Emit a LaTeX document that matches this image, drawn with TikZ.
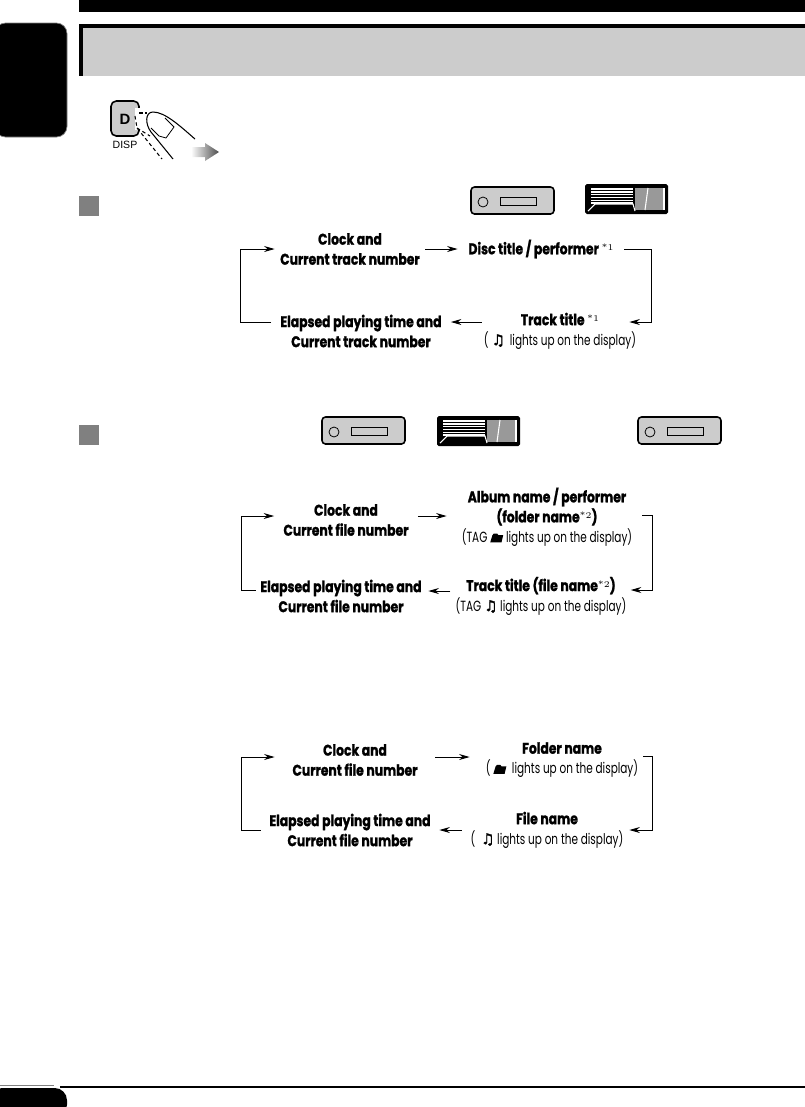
\documentclass[tikz,border=0pt]{standalone}
\usepackage{fontspec}
\usepackage{tikz}
\usetikzlibrary{
  arrows.meta,
  positioning,
  calc
}
\newfontfamily\titlefamily[FakeStretch=0.8,BoldFeatures={FakeBold=1.3}]{Poppins}
\newfontfamily\subfamily[FakeStretch=0.71]{Poppins}
\newfontfamily\symfamily[FakeBold=2]{DejaVu Sans}
\newfontfamily\keyfamily{Liberation Sans}
\newcommand{\flowtitle}{\titlefamily\bfseries\fontsize{8.8}{11.4}\selectfont}
\newcommand{\flowsub}{\subfamily\mdseries\fontsize{8.4}{11.4}\selectfont}
\newcommand{\noteref}[1]{\raisebox{2.2pt}{\rmfamily\mdseries\fontsize{5}{5}\selectfont *#1}}
\newcommand{\noteicon}{{\symfamily\fontsize{8.5}{8.5}\selectfont ♫}}
\newcommand{\foldericon}{\tikz[x=1pt,y=1pt] \fill (0,0) -- (1.2,4) -- (2,5) -- (4,5) -- (4.6,4.2) -- (7.4,4.2) -- (6.4,0) -- cycle;}
\definecolor{bandgray}{HTML}{CCCCCC}
\definecolor{markgray}{HTML}{808080}
\definecolor{panelgray}{HTML}{999999}
\tikzset{
  device/.pic={
    \draw[line width=0.9pt, fill=bandgray, rounded corners=2pt] (0,0) rectangle (83,27);
    \draw[line width=0.45pt] (12,15) circle (5);
    \draw[line width=0.45pt] (29,10) rectangle (65,18);
  },
  panel/.pic={
    \fill[black, rounded corners=1pt] (0,0) rectangle (83,30);
    \fill[panelgray] (50,4) rectangle (79,26);
    \draw[white, line width=0.6pt] (63,4) -- (60,26);
    \draw[white, line width=0.6pt] (79,4) -- (79,26);
    \foreach \yy in {5,7.8,10.6,13.4,16.2,19} {
      \draw[white, line width=0.8pt] (6,\yy) -- (48,\yy);
    }
    \draw[white, line width=0.6pt] (3,27) -- (10,20) -- (48,20) -- (50,27);
  },
}
\begin{document}
\begin{tikzpicture}[
    x=0.02cm, y=-0.02cm,
    flow/.style={align=center, inner sep=0pt, font=\flowtitle, minimum width=#1*0.02cm},
    arr/.style={-{Stealth[length=6pt, width=3.4pt]}, line width=0.55pt},
    secmark/.style={fill=markgray},
  ]
    \useasboundingbox (0,0) rectangle (805,1107);

    %% ── Page furniture ───────────────────────────────────────
    \fill[black] (79,0) rectangle (805,12);
    \fill[black] (79,24) rectangle (805,76);
    \fill[bandgray] (83,28) rectangle (805,76);
    \draw[gray, line width=0.4pt, fill=black, rounded corners=6pt] (-5,23) rectangle (67,137);
    \draw[black, line width=1.1pt] (60,1087) -- (805,1087);
    \fill[black, rounded corners=7pt] (-10,1088) rectangle (67,1117);
    \draw[gray, line width=0.4pt] (0,1085) -- (54,1085);

    %% ── Button and finger ────────────────────────────────────
    \draw[line width=0.9pt, fill=bandgray, rounded corners=3pt] (111,101) rectangle (139,136);
    \node[inner sep=0pt] (dkey) at (125,119) {\keyfamily\bfseries\fontsize{8.5}{8.5}\selectfont D};
    \node[inner sep=0pt] (dname) at (125,145) {\keyfamily\fontsize{6}{6}\selectfont DISP};
    \fill[white] (135,108) rectangle (141,130);
    \draw[dashed, line width=0.6pt, dash pattern=on 2pt off 1.6pt] (139,113) -- (147,113);
    \draw[dashed, line width=0.6pt, dash pattern=on 2pt off 1.6pt] (135,116) -- (137,128) -- (162,159);
    \draw[dashed, line width=0.6pt, dash pattern=on 2pt off 1.6pt] (137,128) -- (150,136);
    \draw[fill=white, line width=0.6pt] (195,139) .. controls (180,126) and (165,112) .. (153,112)
      .. controls (145,112) and (145,124) .. (151,132) -- (173,159);
    \draw[line width=0.45pt] (165,118) -- (174,127) -- (166,138) -- (159,136) -- (151,128);
    \shade[left color=white, right color=black!70]
      (191,147) -- (205,147) -- (205,143) -- (219,152) -- (205,161) -- (205,157) -- (191,157) -- cycle;

    %% ── Section marks and panels ─────────────────────────────
    \fill[secmark] (79,196) rectangle (99,216);
    \fill[secmark] (79,425) rectangle (99,445);
    \pic at (471,187) {device};
    \pic at (585,184) {panel};
    \pic at (322,417) {device};
    \pic at (437,416) {panel};
    \pic at (638,417) {device};

    %% ── Flow 1 ───────────────────────────────────────────────
    \node[flow=150] (clockA) at (350,249) {Clock and\\Current track number};
    \node[flow=166] (discA) at (541,249) {Disc title / performer \noteref{1}};
    \node[flow=160] (trackA) at (560,331) {Track title\,\noteref{1}\\\flowsub ( \noteicon\,\,lights up on the display)};
    \node[flow=179] (elapsedA) at (361,331) {Elapsed playing time and\\Current track number};

    \draw[arr] (clockA) -- (discA);
    \draw[arr] (discA.east) -- ++(27,0) |- ($(trackA.east)+(-11,-9)$);
    \draw[arr] ($(trackA.west)+(2,-9)$) -- ($(elapsedA.east)+(0,-9)$);
    \draw[arr] ($(elapsedA.west)+(0,-9)$) -- ++(-31,0) |- (clockA.west);

    %% ── Flow 2 ───────────────────────────────────────────────
    \node[flow=143] (clockB) at (346,520) {Clock and\\Current file number};
    \node[flow=200] (albumB) at (547,517) {Album name / performer\\(folder name\noteref{2})\\\flowsub (TAG \foldericon\ lights up on the display)};
    \node[flow=168] (trackB) at (541,596) {Track title (file name\noteref{2})\\\flowsub (TAG \noteicon\ lights up on the display)};
    \node[flow=170] (elapsedB) at (341,596) {Elapsed playing time and\\Current file number};

    \draw[arr] ($(clockB.east)+(0,-4)$) -- ($(albumB.west)+(0,-1)$);
    \draw[arr] ($(albumB.east)+(-5,-2)$) -- ++(10,0) |- ($(trackB.east)+(4,-6)$);
    \draw[arr] ($(trackB.west)+(-5,-5)$) -- ($(elapsedB.east)+(2,-5)$);
    \draw[arr] ($(elapsedB.west)+(0,-6)$) -- ++(-14,0) |- ($(clockB.west)+(0,-4)$);

    %% ── Flow 3 ───────────────────────────────────────────────
    \node[flow=160] (clockC) at (355,760) {Clock and\\Current file number};
    \node[flow=184] (folderC) at (562,760) {Folder name\\\flowsub ( \foldericon\ \ lights up on the display)};
    \node[flow=170] (fileC) at (547,830) {File name\\\flowsub ( \ \noteicon\ lights up on the display)};
    \node[flow=178] (elapsedC) at (350,830) {Elapsed playing time and\\Current file number};

    \draw[arr] ($(clockC.east)+(0,-3)$) -- ($(folderC.west)+(0,-3)$);
    \draw[arr] ($(folderC.east)+(-11,-4)$) -- ++(9,0) |- ($(fileC.east)+(-3,0)$);
    \draw[arr] (fileC.west) -- (elapsedC.east);
    \draw[arr] (elapsedC.west) -- ++(-19,0) |- ($(clockC.west)+(0,-3)$);

  \end{tikzpicture}
\end{document}
